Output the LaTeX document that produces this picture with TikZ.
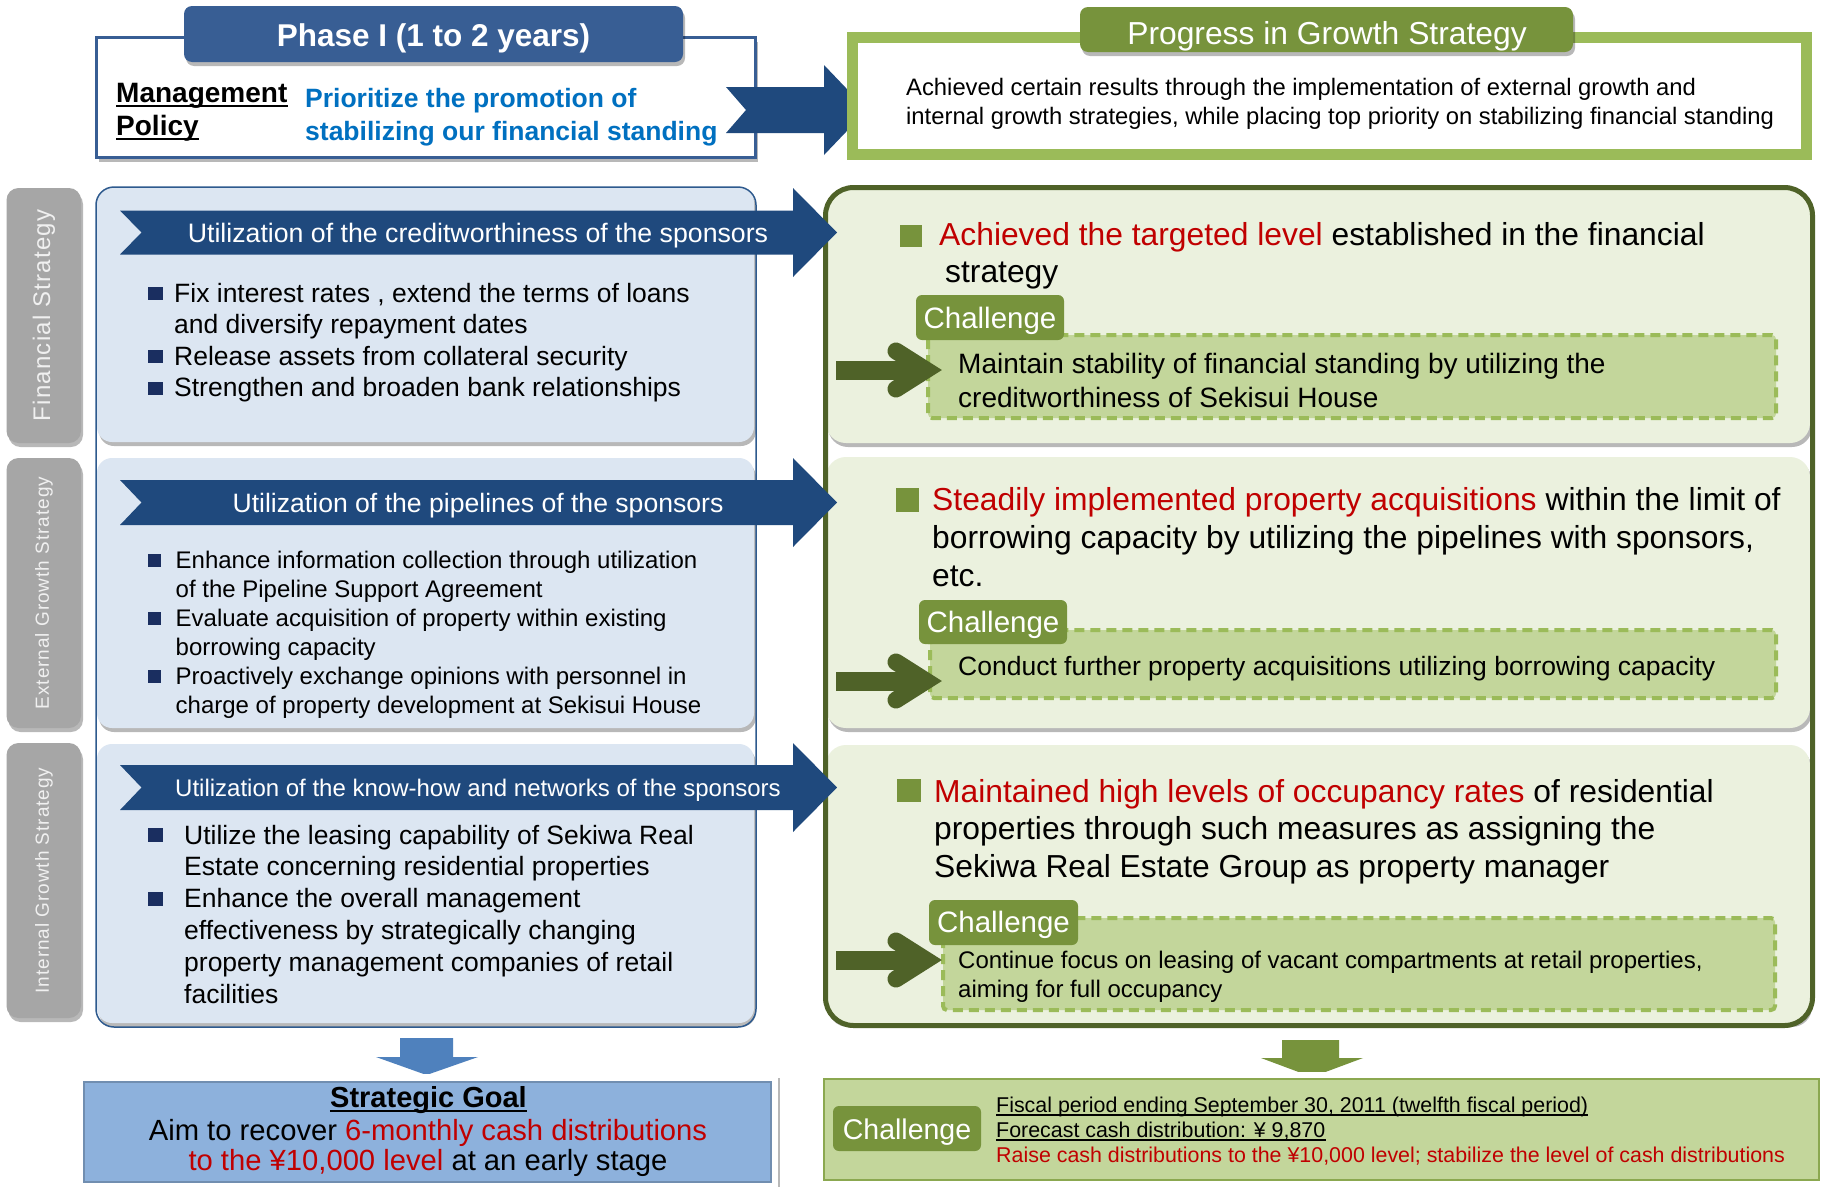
\documentclass[tikz,border=0pt]{standalone}
\usepackage{fontspec}
\setmainfont{Liberation Sans}
\newfontfamily\widefont{Liberation Sans}[LetterSpace=5]
\usetikzlibrary{shadows}
\definecolor{phaseblue}{HTML}{385E94}
\definecolor{polblue}{HTML}{0070C0}
\definecolor{navy}{HTML}{1F497D}
\definecolor{olive}{HTML}{77933C}
\definecolor{lgreen}{HTML}{9BBB59}
\definecolor{dgreen}{HTML}{4F6228}
\definecolor{pgreen}{HTML}{EBF1DE}
\definecolor{cgreen}{HTML}{C3D69B}
\definecolor{pblue}{HTML}{DCE6F2}
\definecolor{lineblue}{HTML}{2E5A8E}
\definecolor{bulnavy}{HTML}{1A2E60}
\definecolor{rred}{HTML}{C00000}
\definecolor{labgray}{HTML}{A6A6A6}
\definecolor{goalblue}{HTML}{8DB1DC}
\definecolor{arrblue}{HTML}{4F81BD}
\newcommand\sz[1]{\fontsize{#1}{#1}\selectfont}
\newcommand\garrow[1]{%
  \fill[dgreen] (836,#1-9.5) rectangle (915,#1+9.5);
  \draw[dgreen,line width=17pt,line cap=round,line join=miter] (896,#1-19) -- (926,#1) -- (896,#1+19);}
\tikzset{
  shd/.style={drop shadow={shadow xshift=2pt,shadow yshift=-4pt,opacity=0.28,fill=black}},
  tx/.style={inner sep=0pt,anchor=base west},
  txc/.style={inner sep=0pt,anchor=base},
  chtab/.style={fill=olive,rounded corners=6pt},
  chtext/.style={txc,text=white,font=\sz{29.5}},
  dashbox/.style={fill=cgreen,draw=lgreen,line width=4pt,dash pattern=on 10pt off 6pt,rounded corners=4pt},
  lpanel/.style={fill=pblue,rounded corners=15pt,shd},
  rpanel/.style={fill=pgreen,rounded corners=20pt,shd},
  sidelab/.style={fill=labgray,rounded corners=12pt,shd},
  sidetext/.style={rotate=90,inner sep=0pt,text=white!94!black},
  banner/.style={fill=navy},
  bannertext/.style={txc,text=white},
  lbul/.style={fill=bulnavy},
  rbul/.style={fill=olive},
  ltext1/.style={tx,font=\sz{26.5}},
  ltext2/.style={tx,font=\sz{24}},
  rtext/.style={tx,font=\sz{31.8}},
}
\begin{document}
\begin{tikzpicture}[x=1pt,y=-1pt]
\useasboundingbox (0,0) rectangle (1825,1186);
\fill[white] (0,0) rectangle (1825,1186);

% ---------- top left: management policy ----------
\path[shd,fill=white,draw=phaseblue,line width=3pt] (96.5,37.5) rectangle (755.5,157.5);
\path[shd,fill=phaseblue,rounded corners=8pt] (184,6) rectangle (683,62);
\node[txc,text=white,font=\bfseries\sz{31.5}] (phase) at (433.5,46.5) {Phase I (1 to 2 years)};
\node[tx,font=\bfseries\sz{28}] (mg1) at (116,102) {Management};
\node[tx,font=\bfseries\sz{28}] (mg2) at (116,135) {Policy};
\draw[line width=2pt] ([yshift=-4pt]mg1.base west) -- ([yshift=-4pt]mg1.base east);
\draw[line width=2pt] ([yshift=-4pt]mg2.base west) -- ([yshift=-4pt]mg2.base east);
\node[tx,text=polblue,font=\bfseries\sz{26.5}] (pol1) at (305,107) {Prioritize the promotion of};
\node[tx,text=polblue,font=\bfseries\sz{26.5}] (pol2) at (305,140) {stabilizing our financial standing};

% big arrow
\fill[navy] (726,87) -- (824,87) -- (824,65) -- (867,110) -- (824,155) -- (824,133) -- (726,133) -- (746,110) -- cycle;

% ---------- top right: progress ----------
\path[shd,fill=white,draw=lgreen,line width=11pt] (852.5,37.5) rectangle (1806.5,154.5);
\path[shd,fill=olive,rounded corners=8pt] (1080,7) rectangle (1573,52);
\node[txc,text=white,font=\sz{31.8}] (prog) at (1327,44.5) {Progress in Growth Strategy};
\node[tx,font=\sz{23.8}] (ach1) at (906,95) {Achieved certain results through the implementation of external growth and};
\node[tx,font=\sz{23.8}] (ach2) at (906,124.5) {internal growth strategies, while placing top priority on stabilizing financial standing};

% ---------- right column ----------
\path[rpanel] (826,190) rectangle (1810,443);
\path[rpanel] (826,457) rectangle (1810,728);
\path[rpanel] (826,745) rectangle (1810,1023);
\draw[dgreen,line width=5pt,rounded corners=28pt] (825.5,187.5) rectangle (1812.5,1025.5);

% panel 1
\fill[rbul] (900,225) rectangle (922,247);
\node[rtext] (r1a) at (939,245) {\textcolor{rred}{Achieved the targeted level} established in the financial};
\node[rtext] (r1b) at (945,282.5) {strategy};
\path[dashbox] (928,335) rectangle (1776,418);
\path[chtab] (916,295) rectangle (1064,340);
\node[chtext] (ch1) at (990,328) {Challenge};
\node[tx,font=\sz{28}] (d1a) at (958,373) {Maintain stability of financial standing by utilizing the};
\node[tx,font=\sz{28}] (d1b) at (958,407) {creditworthiness of Sekisui House};
\garrow{370}

% panel 2
\fill[rbul] (896,488) rectangle (919,512);
\node[rtext] (r2a) at (932,510) {\textcolor{rred}{Steadily implemented property acquisitions} within the limit of};
\node[rtext] (r2b) at (932,548) {borrowing capacity by utilizing the pipelines with sponsors,};
\node[rtext] (r2c) at (932,586) {etc.};
\path[dashbox] (930,630) rectangle (1776,698);
\path[chtab] (919,600) rectangle (1067,644);
\node[chtext] (ch2) at (993,632) {Challenge};
\node[tx,font=\sz{26.5}] (d2a) at (958,675) {Conduct further property acquisitions utilizing borrowing capacity};
\garrow{681}

% panel 3
\fill[rbul] (897,779) rectangle (921,802);
\node[rtext] (r3a) at (934,802) {\textcolor{rred}{Maintained high levels of occupancy rates} of residential};
\node[rtext] (r3b) at (934,839.5) {properties through such measures as assigning the};
\node[rtext] (r3c) at (934,877) {Sekiwa Real Estate Group as property manager};
\path[dashbox] (943,918) rectangle (1775,1010);
\path[chtab] (929,900) rectangle (1078,945);
\node[chtext] (ch3) at (1003.5,932) {Challenge};
\node[tx,font=\sz{24}] (d3a) at (958,968) {Continue focus on leasing of vacant compartments at retail properties,};
\node[tx,font=\sz{24}] (d3b) at (958,997) {aiming for full occupancy};
\garrow{960}

% ---------- left column ----------
\path[sidelab] (6.5,188) rectangle (81,443);
\path[sidelab] (6.5,458) rectangle (81,728);
\path[sidelab] (6.5,743) rectangle (81,1018);
\node[sidetext,font=\widefont\sz{24}] (lab1) at (44,315.5) {Financial Strategy};
\node[sidetext,font=\widefont\sz{19}] (lab2) at (44,593) {External Growth Strategy};
\node[sidetext,font=\widefont\sz{19}] (lab3) at (44,880.5) {Internal Growth Strategy};

\path[lpanel] (97,188) rectangle (754,442);
\path[lpanel] (97,458) rectangle (754,728);
\path[lpanel] (97,744) rectangle (754,1023);
\draw[lineblue,line width=1.5pt,rounded corners=18pt] (96,187) rectangle (756,1027);

% panel 1 bullets
\fill[lbul] (148,287) rectangle (163,300);
\fill[lbul] (148,350) rectangle (163,363);
\fill[lbul] (148,381.5) rectangle (163,394.5);
\node[ltext1] (l1a) at (174,302) {Fix interest rates , extend the terms of loans};
\node[ltext1] (l1b) at (174,333.5) {and diversify repayment dates};
\node[ltext1] (l1c) at (174,365) {Release assets from collateral security};
\node[ltext1] (l1d) at (174,396.5) {Strengthen and broaden bank relationships};

% panel 2 bullets
\fill[lbul] (148,554) rectangle (161,567);
\fill[lbul] (148,612) rectangle (161,625);
\fill[lbul] (148,670) rectangle (161,683);
\node[ltext2] (l2a) at (175.5,568) {Enhance information collection through utilization};
\node[ltext2] (l2b) at (175.5,597) {of the Pipeline Support Agreement};
\node[ltext2] (l2c) at (175.5,626) {Evaluate acquisition of property within existing};
\node[ltext2] (l2d) at (175.5,655) {borrowing capacity};
\node[ltext2] (l2e) at (175.5,684) {Proactively exchange opinions with personnel in};
\node[ltext2] (l2f) at (175.5,713) {charge of property development at Sekisui House};

% panel 3 bullets
\fill[lbul] (148,828) rectangle (163,842);
\fill[lbul] (148,891.6) rectangle (163,905.6);
\node[ltext1] (l3a) at (184,844) {Utilize the leasing capability of Sekiwa Real};
\node[ltext1] (l3b) at (184,875.8) {Estate concerning residential properties};
\node[ltext1] (l3c) at (184,907.6) {Enhance the overall management};
\node[ltext1] (l3d) at (184,939.4) {effectiveness by strategically changing};
\node[ltext1] (l3e) at (184,971.2) {property management companies of retail};
\node[ltext1] (l3f) at (184,1003) {facilities};

% banners
\path[banner] (120,210.5) -- (793,210.5) -- (793,188) -- (837,232.5) -- (793,277) -- (793,254.5) -- (120,254.5) -- (141.5,232.5) -- cycle;
\path[banner] (120,480) -- (793,480) -- (793,458) -- (837,502.5) -- (793,547) -- (793,525) -- (120,525) -- (141.5,502.5) -- cycle;
\path[banner] (120,765) -- (793,765) -- (793,743) -- (837,787.5) -- (793,832) -- (793,810) -- (120,810) -- (141.5,787.5) -- cycle;
\node[bannertext,font=\sz{26.7}] (b1) at (478,242) {Utilization of the creditworthiness of the sponsors};
\node[bannertext,font=\sz{26.6}] (b2) at (478,512) {Utilization of the pipelines of the sponsors};
\node[bannertext,font=\sz{24}] (b3) at (478,796) {Utilization of the know-how and networks of the sponsors};

% ---------- bottom left: strategic goal ----------
\fill[arrblue] (400,1038) -- (453,1038) -- (453,1057) -- (478,1057) -- (426.5,1075) -- (376,1057) -- (400,1057) -- cycle;
\path[shd,fill=white] (76,1074) rectangle (778,1192);
\path[fill=goalblue,draw=goalblue!80!black,line width=2pt] (84,1082) rectangle (771,1182);
\node[txc,font=\bfseries\sz{29}] (sg) at (428.5,1107) {Strategic Goal};
\draw[line width=2pt] ([yshift=-4pt]sg.base west) -- ([yshift=-4pt]sg.base east);
\node[txc,font=\sz{29.2}] (sg2) at (428,1140) {Aim to recover \textcolor{rred}{6-monthly cash distributions}};
\node[txc,font=\sz{29.2}] (sg3) at (428,1170) {\textcolor{rred}{to the ¥10,000 level} at an early stage};

% ---------- bottom right: challenge ----------
\fill[olive] (1282,1040) -- (1339,1040) -- (1339,1058) -- (1363,1058) -- (1312,1077) -- (1261,1058) -- (1282,1058) -- cycle;
\path[shd,fill=white] (816,1072) rectangle (1830,1192);
\path[fill=cgreen,draw=lgreen!90!black,line width=2pt] (824,1079) rectangle (1819,1180);
\path[chtab] (833,1106) rectangle (981,1151);
\node[chtext,font=\sz{28.5}] (ch4) at (907,1139) {Challenge};
\node[tx,font=\sz{21.4}] (f1) at (996,1112) {Fiscal period ending September 30, 2011 (twelfth fiscal period)};
\node[tx,font=\sz{21.4}] (f2) at (996,1137) {Forecast cash distribution: ¥ 9,870};
\node[tx,font=\sz{21.4},text=rred] (f3) at (996,1162) {Raise cash distributions to the ¥10,000 level; stabilize the level of cash distributions};
\draw[line width=1.5pt] ([yshift=-3pt]f1.base west) -- ([yshift=-3pt]f1.base east);
\draw[line width=1.5pt] ([yshift=-3pt]f2.base west) -- ([yshift=-3pt]f2.base east);
\end{tikzpicture}
\end{document}
